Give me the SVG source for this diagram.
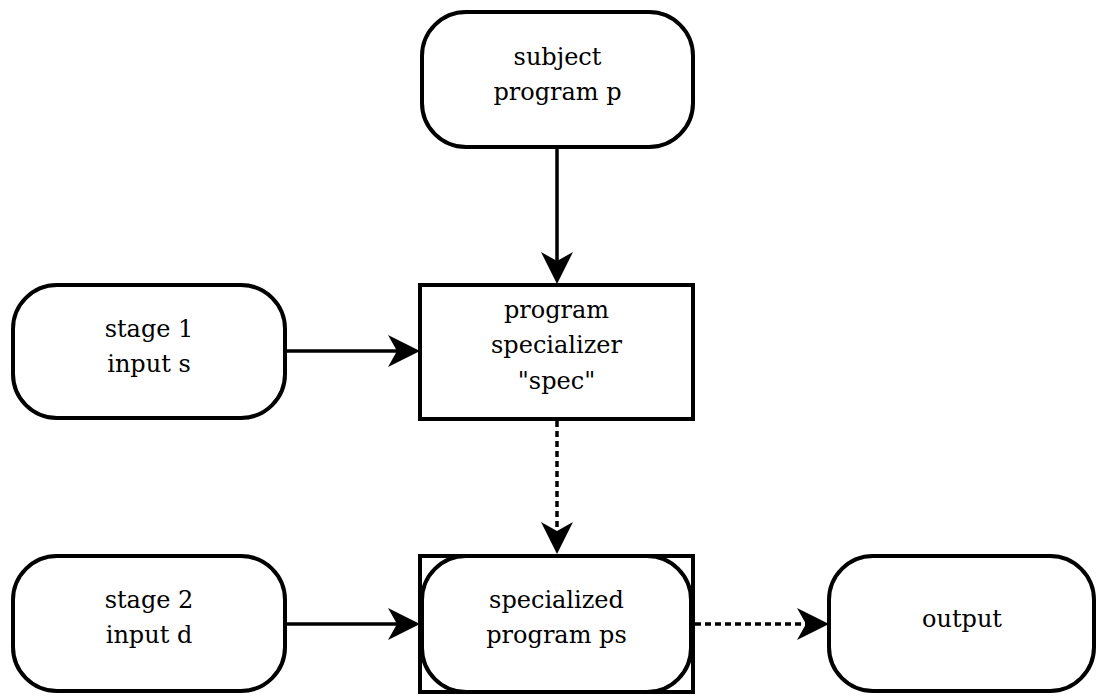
<svg xmlns="http://www.w3.org/2000/svg" width="1098" height="696" viewBox="0 0 1098 696">
<style>
.box{fill:#fff;stroke:#000;stroke-width:4}
.lbl{font-family:"DejaVu Serif","Liberation Serif",serif;font-size:24px;fill:#000;text-anchor:middle}
.c{fill:none;stroke:#000;stroke-width:3.5}
.d{stroke-dasharray:6 4}
</style>
<defs>
<marker id="ah" markerUnits="userSpaceOnUse" markerWidth="32" markerHeight="32" viewBox="0 0 32 32" refX="12" refY="16" orient="auto">
<path d="M0,0 L32,16 L0,32 L9,16 Z" fill="#000"/>
</marker>
</defs>
<g id="connectors">
<line class="c" x1="557" y1="148" x2="557" y2="264" marker-end="url(#ah)"/>
<line class="c" x1="286" y1="351" x2="400" y2="351" marker-end="url(#ah)"/>
<line class="c d" x1="557" y1="421" x2="557" y2="534" marker-end="url(#ah)"/>
<line class="c" x1="286" y1="624" x2="400" y2="624" marker-end="url(#ah)"/>
<line class="c d" x1="695" y1="624" x2="809" y2="624" marker-end="url(#ah)"/>
</g>
<g id="subject">
<rect class="box" x="422" y="12" width="271" height="135" rx="44"/>
<text class="lbl" x="557.5" y="65">subject</text>
<text class="lbl" x="557.5" y="100">program p</text>
</g>
<g id="spec">
<rect class="box" x="420" y="285" width="273" height="134"/>
<text class="lbl" x="556.5" y="318">program</text>
<text class="lbl" x="556.5" y="353">specializer</text>
<text class="lbl" x="556.5" y="389">"spec"</text>
</g>
<g id="stage1">
<rect class="box" x="13" y="285" width="272" height="133" rx="44"/>
<text class="lbl" x="149" y="337">stage 1</text>
<text class="lbl" x="149" y="372">input s</text>
</g>
<g id="specialized">
<rect class="box" x="420" y="556" width="273" height="136"/>
<rect class="box" x="422" y="556" width="269" height="136" rx="44"/>
<text class="lbl" x="556.5" y="608">specialized</text>
<text class="lbl" x="556.5" y="643">program ps</text>
</g>
<g id="stage2">
<rect class="box" x="13" y="556" width="272" height="135" rx="44"/>
<text class="lbl" x="149" y="608">stage 2</text>
<text class="lbl" x="149" y="643">input d</text>
</g>
<g id="output">
<rect class="box" x="829" y="556" width="265" height="135" rx="44"/>
<text class="lbl" x="962" y="627">output</text>
</g>
</svg>
